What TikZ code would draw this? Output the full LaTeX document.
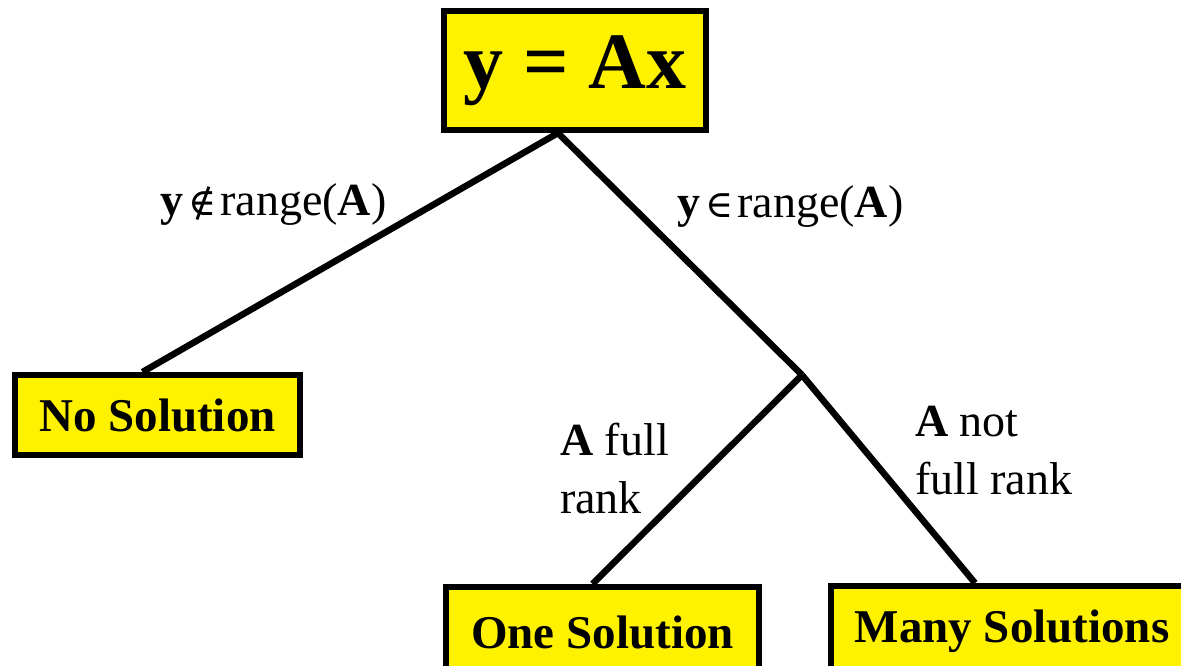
\documentclass[tikz,border=0pt]{standalone}
\usepackage{fontspec}
\setmainfont{Liberation Serif}
\newfontfamily\symfont{DejaVu Serif}
\usepackage{xcolor}
\usepackage{tikz}
\usetikzlibrary{positioning, calc}

\begin{document}
\begin{tikzpicture}[
  x=1pt, y=-1pt,
  case/.style   = {draw, line width=6pt, fill=yellow, inner sep=0pt,
                   font=\fontsize{47}{56}\selectfont\bfseries},
  cond/.style   = {inner sep=0pt, align=left,
                   font=\fontsize{46}{58}\selectfont},
  branch/.style = {line width=6.5pt},
]
\useasboundingbox (0,0) rectangle (1181,666);
\clip (0,0) rectangle (1181,666);

%% Root
\node[case, minimum width=262pt, minimum height=119pt,
      font=\fontsize{80}{90}\selectfont\bfseries] (eqn) at (575, 70.5)
     {y = Ax};

%% Leaves
\node[case, minimum width=285pt, minimum height=80pt] (nosol)   at (157.5, 415)
     {No Solution};
\node[case, minimum width=313pt, minimum height=90pt] (onesol)  at (602.5, 632)
     {One Solution};
\node[case, minimum width=362pt, minimum height=90pt] (manysol) at (1012, 631)
     {Many Solutions};

%% Split point
\coordinate (split) at (802, 375);

%% Branches
\draw[branch] ([xshift=-17pt]eqn.south) -- ([xshift=-15pt]nosol.north);
\draw[branch] ([xshift=-17pt]eqn.south) -- (split);
\draw[branch] (split) -- ([xshift=-10pt]onesol.north);
\draw[branch] (split) -- ([xshift=-37pt]manysol.north);

%% Conditions
\node[cond, anchor=base west] (notin) at (160, 215)
     {\textbf{y}\hspace{5pt}{\symfont\fontsize{38}{40}\selectfont ∉}\hspace{4pt}range(\textbf{A})};
\node[cond, anchor=base west] (isin)  at (677, 217)
     {\textbf{y}\hspace{5pt}{\symfont\fontsize{38}{40}\selectfont ∈}\hspace{4pt}range(\textbf{A})};
\node[cond, anchor=north west] (full)    at (560, 423)
     {\textbf{A} full\\rank};
\node[cond, anchor=north west] (notfull) at (915, 406)
     {\textbf{A} not\\full rank};

\end{tikzpicture}
\end{document}
